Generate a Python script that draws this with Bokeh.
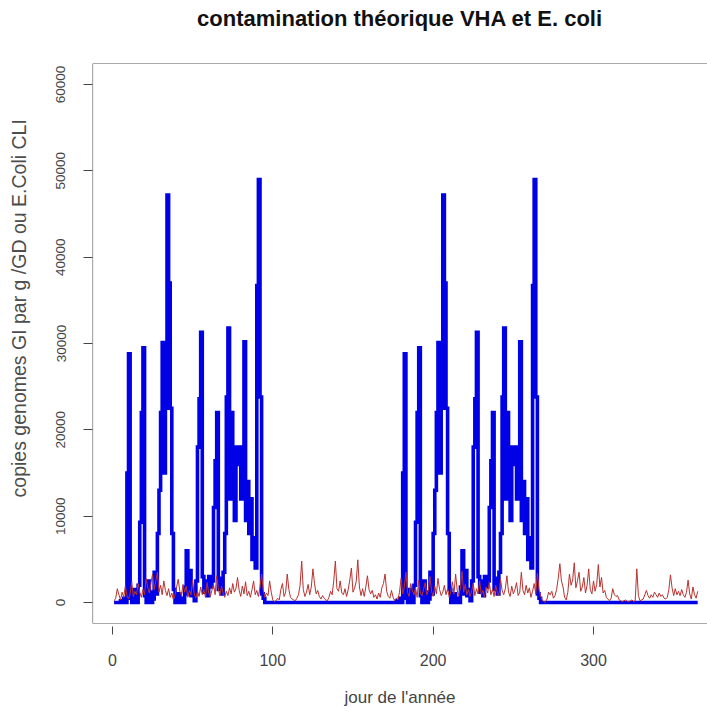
from bokeh.plotting import figure
from bokeh.models import FixedTicker, Span, Range1d, Title
from bokeh.embed import file_html
from bokeh.resources import INLINE

# ---- data ----
# VHA (blue), first active period: days 1..96
blue_period1 = [
    0, 0, 0, 0, 200, 0, 500, 0, 15000, 28800,
    500, 0, 1500, 300, 0, 2000, 9300, 22000, 29500, 800,
    0, 2500, 1200, 0, 400, 3500, 1000, 8000, 13000, 22000,
    30100, 15000, 22500, 47200, 37000, 22500, 8000, 1500, 0, 300,
    1000, 0, 500, 0, 1800, 6000, 1000, 3700, 800, 1500,
    200, 2500, 18000, 23600, 31300, 3000, 1200, 2500, 800, 3000,
    1800, 2500, 11000, 16400, 22000, 1500, 2800, 1000, 3500, 8000,
    23800, 31800, 12000, 22000, 14000, 9500, 18000, 16000, 18000, 12000,
    15000, 30200, 9500, 14000, 8000, 12000, 5000, 7500, 4000, 36700,
    49000, 23800, 1000, 500, 0, 0,
]
# days 97..172: no VHA
blue_gap1 = [0] * 76
# second active period: days 173..268 (same profile as the first one)
blue_period2 = [
    0, 0, 0, 0, 200, 0, 500, 0, 15000, 28800,
    500, 0, 1500, 300, 0, 2000, 9300, 22000, 29500, 800,
    0, 2500, 1200, 0, 400, 3500, 1000, 8000, 13000, 22000,
    30100, 15000, 22500, 47200, 37000, 22500, 8000, 1500, 0, 300,
    1000, 0, 500, 0, 1800, 6000, 1000, 3700, 800, 1500,
    200, 2500, 18000, 23600, 31300, 3000, 1200, 2500, 800, 3000,
    1800, 2500, 11000, 16400, 22000, 1500, 2800, 1000, 3500, 8000,
    23800, 31800, 12000, 22000, 14000, 9500, 18000, 16000, 18000, 12000,
    15000, 30200, 9500, 14000, 8000, 12000, 5000, 7500, 4000, 36700,
    49000, 23800, 1000, 500, 0, 0,
]
# days 269..365: no VHA
blue_gap2 = [0] * 97

# E. coli (red), days 1..96
red_p1 = [
    200, 500, 1600, 900, 300, 1200, 600, 1900, 800, 400,
    1000, 2400, 700, 1300, 900, 2200, 1200, 600, 1500, 900,
    2800, 1700, 1100, 2300, 3300, 1500, 2500, 3500, 1200, 2000,
    900, 2500, 1400, 800, 1600, 600, 1100, 300, 900, 1800,
    2700, 1300, 800, 2100, 1200, 1900, 600, 1400, 900, 2600,
    1000, 500, 1300, 700, 1800, 900, 1500, 600, 2300, 1100,
    700, 1400, 2100, 900, 3100, 1600, 800, 1900, 1100, 600,
    1300, 800, 1700, 1000, 2200, 1200, 1600, 2900, 1400, 700,
    1900, 1000, 2400, 800, 1300, 600, 1500, 2500, 900, 1400,
    700, 1800, 3300, 1500, 600, 1100,
]
# days 97..180
red_p2 = [
    800, 2500, 1200, 300, 100, 200, 500, 300, 1500, 2200,
    700, 1200, 3300, 1500, 600, 400, 300, 200, 500, 900,
    2000, 4800, 1500, 700, 1200, 2100, 900, 1800, 3900, 2200,
    1000, 1400, 700, 400, 800, 500, 300, 200, 600, 1300,
    900, 2500, 4800, 1600, 1300, 2500, 1100, 900, 1600, 700,
    1500, 2600, 4000, 1200, 1700, 2400, 4950, 1800, 800, 1600,
    700, 1800, 3100, 1500, 1000, 1400, 600, 900, 400, 1100,
    600, 1700, 2200, 3300, 1300, 700, 500, 1400, 600, 200,
    500, 300, 1200, 2800,
]
# days 181..267
red_p3 = [
    1000, 1800, 3500, 1200, 700, 2200, 1400, 900, 1700, 600,
    2600, 1100, 800, 1500, 2300, 900, 1400, 3000, 1300, 700,
    1900, 1000, 2800, 1500, 800, 1200, 2000, 900, 1600, 600,
    1300, 2400, 1000, 3300, 1400, 800, 1700, 3600, 1200, 2100,
    900, 1500, 700, 1300, 2200, 800, 1600, 1000, 2500, 900,
    1400, 600, 1800, 1100, 2400, 900, 1500, 700, 2000, 1200,
    800, 2700, 1400, 900, 1600, 3100, 1200, 700, 1900, 1000,
    1500, 2300, 800, 1200, 3500, 1400, 900, 2000, 1100, 1700,
    600, 1300, 2200, 1000, 3400, 1500, 700,
]
# days 268..365
red_p4 = [
    300, 100, 50, 400, 1200, 900, 1300, 500, 800, 1500,
    2800, 4500, 2500, 1800, 600, 300, 1200, 3300, 2000, 2600,
    4600, 1700, 2500, 3500, 1300, 1800, 2900, 1100, 2000, 3900,
    1500, 1000, 2500, 1300, 2100, 4400, 1800, 2900, 1100, 1400,
    600, 400, 200, 500, 1600, 900, 700, 800, 300, 200,
    100, 200, 300, 150, 100, 200, 300, 100, 200, 3900,
    800, 200, 300, 400, 900, 1400, 800, 500, 900, 600,
    1200, 900, 600, 1100, 700, 900, 500, 400, 600, 1500,
    3200, 1700, 800, 1600, 900, 1300, 800, 1500, 900, 600,
    1200, 2600, 1000, 400, 1800, 900, 500, 1300,
]

blue = blue_period1 + blue_gap1 + blue_period2 + blue_gap2
red = red_p1 + red_p2 + red_p3 + red_p4
days = list(range(1, len(blue) + 1))

x_ticks = [0, 100, 200, 300]
y_ticks = [0, 10000, 20000, 30000, 40000, 50000, 60000]

FONT = "Liberation Sans"
TXT = "#444444"

x0, x1 = -12.47, 371.1
y0, y1 = -2430, 62430

p = figure(width=707, height=710, output_backend="svg", toolbar_location=None,
           x_range=Range1d(x0, x1), y_range=Range1d(y0, y1),
           min_border_left=92, min_border_right=0, min_border_top=63,
           min_border_bottom=87, title=None)
p.outline_line_color = None
p.xgrid.grid_line_color = None
p.ygrid.grid_line_color = None
p.background_fill_color = "white"
p.border_fill_color = "white"

# spacer between frame and title, then the title itself (stacked outward)
p.add_layout(Title(text="\u00a0", text_font_size="12px", standoff=17), "above")
p.add_layout(Title(text="contamination théorique VHA et E. coli", align="center",
                   offset=6, standoff=0, text_font=FONT, text_font_size="22px",
                   text_font_style="bold", text_color="#111111"), "above")

# box (left, top, bottom; the right side is cropped off in the original)
for loc, dim in [(x0, "height"), (y0, "width"), (y1, "width")]:
    p.add_layout(Span(location=loc, dimension=dim, line_color="#555555", line_width=1.2))

p.step(days, blue, mode="after", line_color="#0000E6", line_width=3.6, line_join="miter")
p.line(days, red, line_color="#B8322F", line_width=1)

for ax in (p.xaxis[0], p.yaxis[0]):
    ax.axis_line_color = None
    ax.minor_tick_line_color = None
    ax.major_tick_line_color = "#444444"
    ax.major_label_text_font = FONT
    ax.major_label_text_color = TXT
    ax.axis_label_text_font = FONT
    ax.axis_label_text_font_style = "normal"
    ax.axis_label_text_color = TXT

p.xaxis.ticker = FixedTicker(ticks=x_ticks)
p.xaxis.axis_label = "jour de l'année"
p.xaxis.major_label_text_font_size = "16px"
p.xaxis.axis_label_text_font_size = "17px"
p.xaxis.major_tick_in = -3
p.xaxis.major_tick_out = 11
p.xaxis.major_label_standoff = 19
p.xaxis.axis_label_standoff = 19

p.yaxis.ticker = FixedTicker(ticks=y_ticks)
# leading no-break spaces push the visible text up, as in the original
p.yaxis.axis_label = "\u00a0" * 13 + "copies genomes GI par g /GD ou E.Coli CLI"
p.yaxis.axis_label_text_font_size = "19.5px"
p.yaxis.axis_label_text_color = "#4d4d4d"
p.yaxis.major_label_text_font_size = "13.5px"
p.yaxis.major_label_orientation = "vertical"
p.yaxis.major_tick_in = 0
p.yaxis.major_tick_out = 9
p.yaxis.major_label_standoff = 18
p.yaxis.axis_label_standoff = 24

open("out.html", "w").write(file_html(p, INLINE))
